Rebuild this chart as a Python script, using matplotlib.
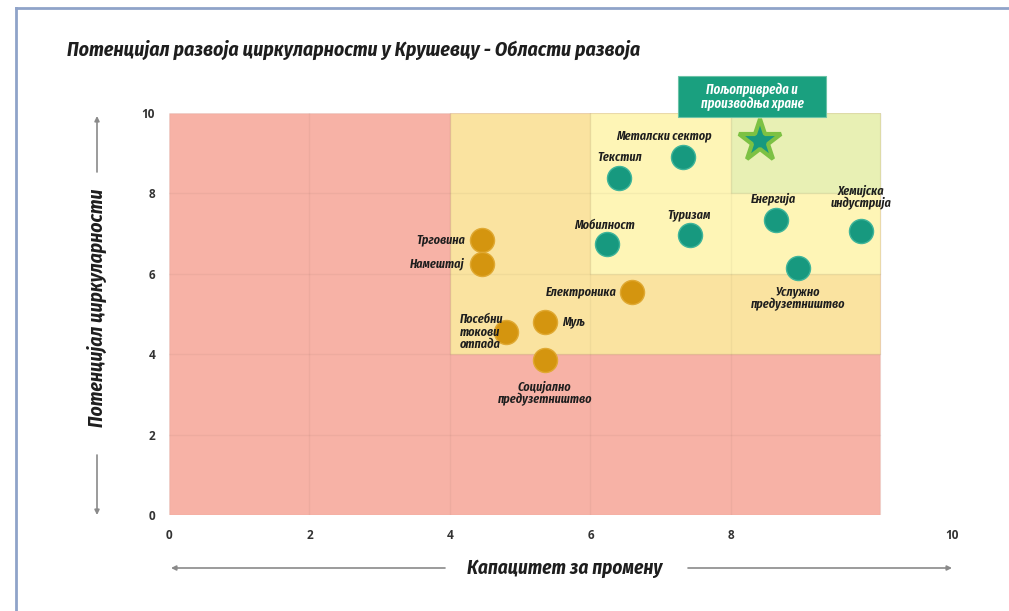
import matplotlib
matplotlib.use("Agg")
import matplotlib.pyplot as plt
from matplotlib.patches import Rectangle
from matplotlib.lines import Line2D

plt.rcParams['font.family'] = ['Fira Sans Condensed', 'DejaVu Sans']
LABEL_FONT = ['Fira Sans Extra Condensed', 'DejaVu Sans']

# data
teal_names = ["Металски сектор", "Текстил", "Мобилност", "Туризам", "Енергија",
              "Хемијска\nиндустрија", "Услужно\nпредузетништво"]
teal_x = [7.32, 6.41, 6.23, 7.42, 8.64, 9.85, 8.95]
teal_y = [8.91, 8.38, 6.74, 6.97, 7.34, 7.06, 6.14]

orange_names = ["Трговина", "Намештај", "Електроника", "Муљ",
                "Посебни\nтокови\nотпада", "Социјално\nпредузетништво"]
orange_x = [4.46, 4.46, 6.59, 5.35, 4.80, 5.35]
orange_y = [6.84, 6.24, 5.55, 4.80, 4.55, 3.86]

star_name = "Пољопривреда и\nпроизводња хране"
star_x = [8.41]
star_y = [9.30]

# zones
zone_x0 = [0, 4, 6, 8]
zone_x1 = [10.12, 10.12, 10.12, 10.12]
zone_y0 = [0, 4, 6, 8]
zone_y1 = [10, 10, 10, 10]
zone_col = ["#F7B2A6", "#FAE3A0", "#FEF5B6", "#E8F0B4"]

tick_vals = [0, 2, 4, 6, 8]
x_tick_pos = [0, 2, 4, 6, 8, 11.15]
x_tick_lab = ["0", "2", "4", "6", "8", "10"]

TEAL = "#17997F"
ORANGE = "#D4950F"
TXT = "#1E1E1E"

fig = plt.figure(figsize=(10.09, 6.11), dpi=100)
ax = fig.add_axes([0.1675, 0.1571, 0.7867, 0.6579])
ax.set_xlim(0, 11.3)
ax.set_ylim(0, 10)

for x0, x1, y0, y1, c in zip(zone_x0, zone_x1, zone_y0, zone_y1, zone_col):
    ax.add_patch(Rectangle((x0, y0), x1 - x0, y1 - y0, facecolor=c,
                           edgecolor=(0, 0, 0, 0.04), lw=1, zorder=0))

# faint grid inside coloured area
for v in tick_vals[1:]:
    ax.plot([v, v], [0, 10], color=(0, 0, 0, 0.04), lw=1, zorder=1)
    ax.plot([0, 10.12], [v, v], color=(0, 0, 0, 0.04), lw=1, zorder=1)

ax.scatter(teal_x, teal_y, s=300, color=TEAL, edgecolor="#3FB59A", lw=1, zorder=3)
ax.scatter(orange_x, orange_y, s=300, color=ORANGE, edgecolor="#E0A932", lw=1, zorder=3)
ax.plot(star_x, star_y, marker="*", ms=32, mfc=TEAL, mec="#7CC143", mew=3,
        ls="none", zorder=3)

lab = dict(family=LABEL_FONT, fontsize=9.5, fontweight=600, fontstyle="italic",
           color=TXT, zorder=4)
offs_teal = [(-0.27, 0.53, "center"), (0, 0.52, "center"), (-0.03, 0.48, "center"),
             (-0.02, 0.5, "center"), (-0.04, 0.54, "center"), (0.0, 0.85, "center"),
             (0.0, -0.75, "center")]
for n, x, y, (dx, dy, ha) in zip(teal_names, teal_x, teal_y, offs_teal):
    ax.text(x + dx, y + dy, n, ha=ha, va="center", linespacing=1.0, **lab)

offs_or = [(-0.25, 0, "right"), (-0.25, 0, "right"), (-0.22, 0, "right"),
           (0.25, 0, "left"), (-0.66, 0, "left"), (0, -0.82, "center")]
for n, x, y, (dx, dy, ha) in zip(orange_names, orange_x, orange_y, offs_or):
    ax.text(x + dx, y + dy, n, ha=ha, va="center", linespacing=1.0, **lab)

# star label box
ax.add_patch(Rectangle((star_x[0] - 1.16, star_y[0] + 0.6), 2.1, 1.02,
                       facecolor="#1AA07F", edgecolor="#6CC3A6", lw=0.8,
                       clip_on=False, zorder=5))
ax.text(star_x[0] - 0.11, star_y[0] + 1.1, star_name, ha="center", va="center",
        family=LABEL_FONT, fontsize=10, fontweight=600, fontstyle="italic",
        color="white", linespacing=1.05, zorder=6, clip_on=False)

ax.set_xticks(x_tick_pos)
ax.set_xticklabels(x_tick_lab)
ax.set_yticks(tick_vals + [10])
for spine in ax.spines.values():
    spine.set_visible(False)
ax.tick_params(length=0, labelsize=8.5, labelcolor="#333333", pad=10)
for t in ax.get_xticklabels() + ax.get_yticklabels():
    t.set_family(["Open Sans", "DejaVu Sans"])
    t.set_fontweight("bold")

# title and axis titles
fig.text(67 / 1009, 1 - 50 / 611, "Потенцијал развоја циркуларности у Крушевцу - Области развоја",
         fontsize=14.2, fontweight="bold", fontstyle="italic", color=TXT, va="center")
fig.text(565 / 1009, 1 - 568 / 611, "Капацитет за промену", fontsize=13.8,
         fontweight="bold", fontstyle="italic", color=TXT, ha="center", va="center")
fig.text(97 / 1009, 1 - 308 / 611, "Потенцијал циркуларности", fontsize=14,
         fontweight="bold", fontstyle="italic", color=TXT, ha="center", va="center",
         rotation=90)


def fig_arrow(x0, y0, x1, y1):
    fig.add_artist(matplotlib.patches.FancyArrowPatch(
        (x0 / 1009, 1 - y0 / 611), (x1 / 1009, 1 - y1 / 611),
        transform=fig.transFigure, arrowstyle="-|>", mutation_scale=7,
        color="#8A8A8A", lw=1.2, shrinkA=0, shrinkB=0))


fig_arrow(445, 568, 171, 568)
fig_arrow(688, 568, 952, 568)
fig_arrow(97, 172, 97, 116)
fig_arrow(97, 455, 97, 515)

# frame
fig.add_artist(Line2D([16 / 1009, 1], [1 - 8 / 611, 1 - 8 / 611],
                      transform=fig.transFigure, color="#8FA3C9", lw=2))
fig.add_artist(Line2D([16 / 1009, 16 / 1009], [0, 1 - 8 / 611],
                      transform=fig.transFigure, color="#8FA3C9", lw=2))

fig.savefig("out.png", dpi=100)
